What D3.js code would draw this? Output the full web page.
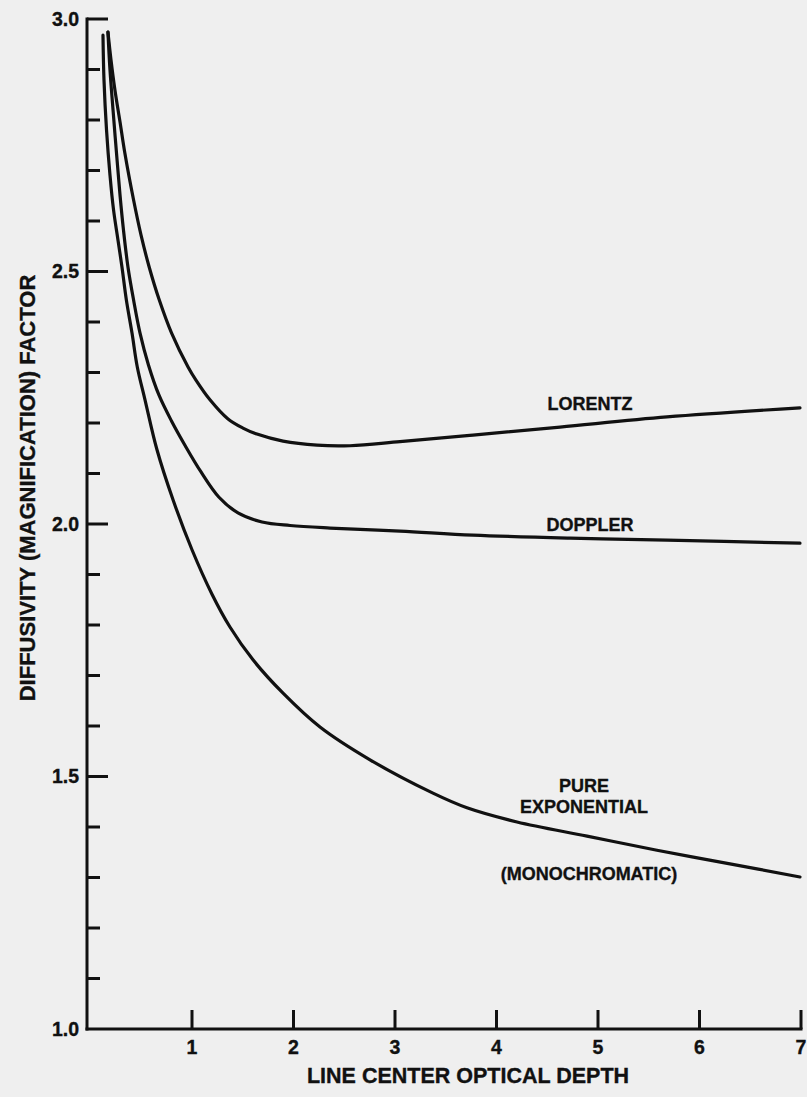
<!DOCTYPE html>
<html><head><meta charset="utf-8">
<script src="https://cdn.jsdelivr.net/npm/d3@7"></script>
<style>
html,body{margin:0;padding:0;background:#efefef;}
svg{display:block;}
text{font-family:"Liberation Sans",Arial,sans-serif;font-weight:bold;fill:#111;stroke:#111;stroke-width:0.35px;}
</style></head><body>
<svg id="c" width="807" height="1097"></svg>
<script>
// ---- data ----
const xTickLabels = [1,2,3,4,5,6,7];
const yMajorTicks = [1.0,1.5,2.0,2.5,3.0];
const yMinorTicks = [1.1,1.2,1.3,1.4,1.6,1.7,1.8,1.9,2.1,2.2,2.3,2.4,2.6,2.7,2.8,2.9];

const exponentialX = [0.123,0.133,0.158,0.192,0.227,0.271,0.310,0.353,0.409,0.461,0.537,0.655,0.813,1.000,1.197,1.374,1.601,1.897,2.261,2.754,3.374,3.709,4.202,4.892,5.581,6.300,6.990];
const exponentialY = [2.968,2.879,2.780,2.691,2.622,2.562,2.509,2.444,2.378,2.311,2.246,2.147,2.048,1.949,1.861,1.796,1.731,1.665,1.598,1.533,1.467,1.438,1.410,1.382,1.354,1.327,1.301];

const dopplerX = [0.172,0.192,0.222,0.256,0.291,0.325,0.369,0.424,0.488,0.571,0.675,0.798,0.936,1.089,1.266,1.453,1.690,1.966,2.360,3.049,3.768,4.724,5.680,6.990];
const dopplerY = [2.974,2.899,2.820,2.735,2.651,2.582,2.509,2.444,2.378,2.315,2.255,2.204,2.154,2.103,2.053,2.022,2.004,1.997,1.992,1.986,1.978,1.972,1.968,1.962];

const lorentzX = [0.172,0.202,0.241,0.291,0.338,0.424,0.498,0.578,0.677,0.799,0.961,1.039,1.177,1.355,1.502,1.640,1.897,2.232,2.557,3.049,3.768,4.626,5.680,6.990];
const lorentzY = [2.974,2.919,2.859,2.796,2.735,2.642,2.572,2.509,2.444,2.378,2.311,2.285,2.246,2.208,2.190,2.178,2.164,2.156,2.155,2.163,2.176,2.192,2.212,2.230];

const curveLabels = [
  {t:"LORENTZ", x:4.921, y:2.226},
  {t:"DOPPLER", x:4.921, y:1.986},
  {t:"PURE", x:4.862, y:1.469},
  {t:"EXPONENTIAL", x:4.862, y:1.428},
  {t:"(MONOCHROMATIC)", x:4.911, y:1.295}
];
const xTitle = "LINE CENTER OPTICAL DEPTH";
const yTitle = "DIFFUSIVITY (MAGNIFICATION) FACTOR";

// ---- chart ----
const svg = d3.select("#c");
const x = d3.scaleLinear().domain([0,7]).range([90.5,801]);
const y = d3.scaleLinear().domain([1,3]).range([1029,19]);
const axisX0 = 87;
const ink = "#111";

// y axis
const ya = svg.append("g");
ya.append("line").attr("x1",axisX0).attr("x2",axisX0).attr("y1",y(3)-1.5).attr("y2",y(1)+1.5)
  .attr("stroke",ink).attr("stroke-width",3);
ya.selectAll(".mi").data(yMinorTicks).join("line")
  .attr("x1",axisX0).attr("x2",axisX0+13).attr("y1",d=>y(d)).attr("y2",d=>y(d))
  .attr("stroke",ink).attr("stroke-width",3);
ya.selectAll(".ma").data(yMajorTicks.filter(d=>d>1)).join("line")
  .attr("x1",axisX0).attr("x2",axisX0+21).attr("y1",d=>y(d)).attr("y2",d=>y(d))
  .attr("stroke",ink).attr("stroke-width",3);
ya.selectAll("text").data(yMajorTicks).join("text")
  .attr("x",79).attr("y",d=>y(d)+6.5).attr("text-anchor","end")
  .attr("font-size",19.5).text(d=>d.toFixed(1));

// x axis
const xa = svg.append("g");
xa.append("line").attr("x1",axisX0-1.5).attr("x2",x(7)+1.5).attr("y1",y(1)).attr("y2",y(1))
  .attr("stroke",ink).attr("stroke-width",3);
xa.selectAll("line.t").data(xTickLabels).join("line").attr("class","t")
  .attr("x1",d=>x(d)).attr("x2",d=>x(d)).attr("y1",y(1)).attr("y2",y(1)-19)
  .attr("stroke",ink).attr("stroke-width",3);
xa.selectAll("text").data(xTickLabels).join("text")
  .attr("x",d=>x(d)).attr("y",1054).attr("text-anchor","middle")
  .attr("font-size",19.5).text(d=>d);

svg.append("text").attr("x",468).attr("y",1083).attr("text-anchor","middle")
  .attr("font-size",21.5).text(xTitle);
svg.append("text").attr("transform","translate(35,488) rotate(-90)").attr("text-anchor","middle")
  .attr("font-size",22).text(yTitle);

// curves
const line = d3.line().x(d=>x(d[0])).y(d=>y(d[1])).curve(d3.curveCatmullRom.alpha(0.5));
const series = [
  d3.zip(exponentialX, exponentialY),
  d3.zip(dopplerX, dopplerY),
  d3.zip(lorentzX, lorentzY)
];
svg.append("g").selectAll("path").data(series).join("path")
  .attr("d",line).attr("fill","none").attr("stroke",ink).attr("stroke-width",3.2)
  .attr("stroke-linecap","round").attr("stroke-linejoin","round");

svg.append("g").selectAll("text").data(curveLabels).join("text")
  .attr("x",d=>x(d.x)).attr("y",d=>y(d.y)).attr("text-anchor","middle")
  .attr("font-size",18).text(d=>d.t);
</script>
</body></html>
